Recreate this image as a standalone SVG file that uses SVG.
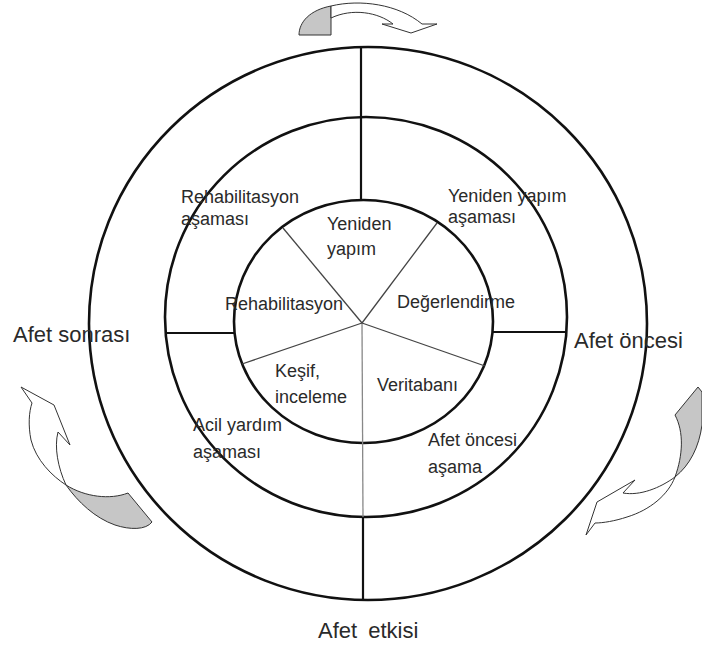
<svg xmlns="http://www.w3.org/2000/svg" width="702" height="648" viewBox="0 0 702 648">
<style>
.ring{fill:none;stroke:#111;stroke-width:2.6}
.div{stroke:#111;stroke-width:2.2;fill:none}
.thin{stroke:#444;stroke-width:1.3;fill:none}
.gthin{stroke:#888;stroke-width:1.3;fill:none}
.t{font-family:"Liberation Sans",Arial,sans-serif;font-size:18px;fill:#2a2a2a}
.big{font-family:"Liberation Sans",Arial,sans-serif;font-size:22px;fill:#2a2a2a}
.arw{stroke:#333;stroke-width:1;fill:#fff;stroke-linejoin:round}
.arg{stroke:#333;stroke-width:1;fill:#c6c6c6;stroke-linejoin:round}
</style>
<rect width="702" height="648" fill="#fff"/>
<g id="rings">
<ellipse class="ring" cx="368" cy="323.5" rx="279" ry="276.5"/>
<ellipse class="ring" cx="366" cy="317" rx="201" ry="200"/>
<ellipse class="ring" cx="363.5" cy="321.5" rx="129.5" ry="121.5"/>
</g>
<g id="connectors">
<line class="div" x1="361" y1="47" x2="361" y2="200"/>
<line class="div" x1="363" y1="517" x2="363" y2="600" stroke-width="2.6"/>
<line class="gthin" x1="362" y1="323" x2="363" y2="517"/>
<line class="div" x1="165" y1="333" x2="234" y2="333"/>
<line class="div" x1="493" y1="332" x2="567" y2="332" stroke-width="3"/>
<line class="thin" x1="362" y1="323" x2="283" y2="228"/>
<line class="thin" x1="362" y1="323" x2="437" y2="223"/>
<line class="thin" x1="362" y1="323" x2="242" y2="364"/>
<line class="thin" x1="362" y1="323" x2="485" y2="366"/>
</g>
<g id="arrow-top">
<path class="arg" d="M299,35 C299,22 310,10 331,6 L331,35 Z"/>
<path class="arw" d="M331,6 C360,-1 398,4 422,24 L437,24 L411,33 L382,24 L393,24 C378,12 352,8 331,18 Z"/>
</g>
<g id="arrow-left">
<path class="arw" d="M21,387 L54,405 L70,445 L58,432 C54,447 58,468 66,485 C52,476 36,460 31,440 C28,425 29,412 32,403 Z"/>
<path class="arg" d="M66,485 C85,497 110,500 128,493 L152,522 C146,530 130,530 115,525 C95,518 78,502 66,485 Z"/>
</g>
<g id="arrow-right">
<path class="arg" d="M675,477 C683,455 684,432 675,415 L698,387 L702,392 L702,425 C699,447 690,465 675,477 Z"/>
<path class="arw" d="M586,535 L597,502 L635,480 L623,493 C640,496 660,488 675,477 C668,495 650,510 627,517 C615,521 603,523 595,523 Z"/>
</g>
<g id="outer-labels">
<text class="big" x="13" y="342">Afet sonrası</text>
<text class="big" x="574" y="348">Afet öncesi</text>
<text class="big" x="318" y="638" word-spacing="5">Afet etkisi</text>
</g>
<g id="middle-labels">
<text class="t" x="181" y="203">Rehabilitasyon</text>
<text class="t" x="181" y="225">aşaması</text>
<text class="t" x="448" y="202">Yeniden yapım</text>
<text class="t" x="448" y="223">aşaması</text>
<text class="t" x="193" y="431">Acil yardım</text>
<text class="t" x="193" y="458">aşaması</text>
<text class="t" x="428" y="446">Afet öncesi</text>
<text class="t" x="428" y="473">aşama</text>
</g>
<g id="inner-labels">
<text class="t" x="327" y="230">Yeniden</text>
<text class="t" x="327" y="255">yapım</text>
<text class="t" x="225" y="310">Rehabilitasyon</text>
<text class="t" x="397" y="308">Değerlendirme</text>
<text class="t" x="275" y="377">Keşif,</text>
<text class="t" x="275" y="403">inceleme</text>
<text class="t" x="377" y="391">Veritabanı</text>
</g>
</svg>
